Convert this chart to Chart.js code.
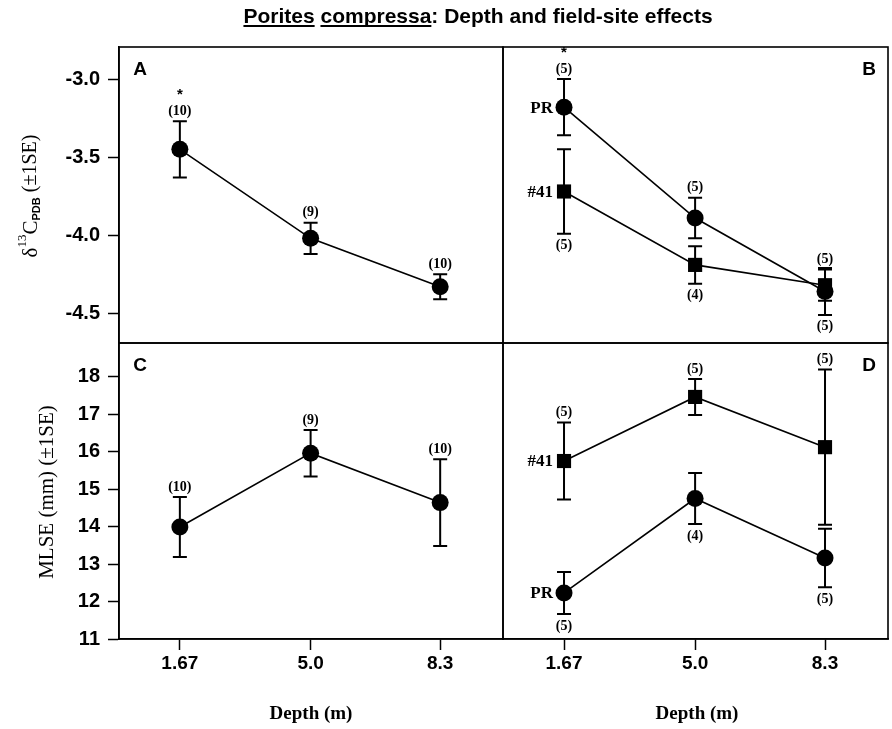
<!DOCTYPE html>
<html>
<head>
<meta charset="utf-8">
<script src="https://cdn.jsdelivr.net/npm/chart.js@4.4.1/dist/chart.umd.min.js"></script>
<style>
  html, body { margin: 0; padding: 0; background: #fff; overflow: hidden; }
  #wrap { position: relative; width: 892px; height: 729px; }
  #wrap canvas { position: absolute; left: 0; top: 0; }
</style>
</head>
<body>
<div id="wrap">
  <canvas id="pA" width="892" height="729"></canvas>
  <canvas id="pB" width="892" height="729"></canvas>
  <canvas id="pC" width="892" height="729"></canvas>
  <canvas id="pD" width="892" height="729"></canvas>
</div>
<script>
// depths (m) and tick labels
const depths = [1.67, 5.0, 8.3];
const depthLabels = ['1.67', '5.0', '8.3'];
const carbonTicks = [-4.5, -4.0, -3.5, -3.0];
const mlseTicks = [11, 12, 13, 14, 15, 16, 17, 18];

// A: d13C, both sites pooled
const carbonAll = [-3.45, -4.02, -4.33];
const carbonAllSE = [0.18, 0.10, 0.08];
const carbonAllN = [10, 9, 10];
const carbonAllSide = ['up', 'up', 'up'];
const carbonAllStar = [true, false, false];

// B: d13C by site
const carbonPR = [-3.18, -3.89, -4.36];
const carbonPRSE = [0.18, 0.13, 0.15];
const carbonPRN = [5, 5, 5];
const carbonPRSide = ['up', 'up', 'down'];
const carbonPRStar = [true, false, false];
const carbon41 = [-3.72, -4.19, -4.32];
const carbon41SE = [0.27, 0.12, 0.10];
const carbon41N = [5, 4, 5];
const carbon41Side = ['down', 'down', 'up'];

// C: MLSE, both sites pooled
const mlseAll = [13.99, 15.96, 14.64];
const mlseAllSE = [0.80, 0.62, 1.16];
const mlseAllN = [10, 9, 10];
const mlseAllSide = ['up', 'up', 'up'];

// D: MLSE by site
const mlse41 = [15.75, 17.46, 16.12];
const mlse41SE = [1.03, 0.48, 2.07];
const mlse41N = [5, 5, 5];
const mlse41Side = ['up', 'up', 'up'];
const mlsePR = [12.23, 14.75, 13.16];
const mlsePRSE = [0.56, 0.68, 0.78];
const mlsePRN = [5, 4, 5];
const mlsePRSide = ['down', 'down', 'down'];

const sans = "'Liberation Sans', Arial, sans-serif";
const serif = "'Liberation Serif', 'Times New Roman', serif";

function punkte(vals) {
  return depths.map((d, i) => ({ x: d, y: vals[i] }));
}

function serie(vals, se, n, side, star, name, style) {
  return {
    data: punkte(vals),
    se: se, n: n, side: side, star: star || [], name: name || '',
    borderColor: '#000',
    backgroundColor: '#000',
    borderWidth: 1.6,
    pointStyle: style,
    pointRadius: style === 'rect' ? 10 : 8.5,
    pointBorderWidth: 0,
    tension: 0
  };
}

// error bars, sample sizes, stars and site names
const fehlerBalken = {
  id: 'fehlerBalken',
  beforeDatasetsDraw(chart) {
    const ctx = chart.ctx;
    const y = chart.scales.y;
    ctx.save();
    ctx.strokeStyle = '#000';
    ctx.lineWidth = 2;
    chart.data.datasets.forEach((ds, i) => {
      chart.getDatasetMeta(i).data.forEach((pt, j) => {
        const v = ds.data[j].y, e = ds.se[j];
        const oben = y.getPixelForValue(v + e), unten = y.getPixelForValue(v - e);
        ctx.beginPath();
        ctx.moveTo(pt.x, oben); ctx.lineTo(pt.x, unten);
        ctx.moveTo(pt.x - 7, oben); ctx.lineTo(pt.x + 7, oben);
        ctx.moveTo(pt.x - 7, unten); ctx.lineTo(pt.x + 7, unten);
        ctx.stroke();
      });
    });
    ctx.restore();
  },
  afterDatasetsDraw(chart) {
    const ctx = chart.ctx;
    const y = chart.scales.y;
    ctx.save();
    ctx.fillStyle = '#000';
    ctx.textAlign = 'center';
    ctx.textBaseline = 'middle';
    chart.data.datasets.forEach((ds, i) => {
      chart.getDatasetMeta(i).data.forEach((pt, j) => {
        const v = ds.data[j].y, e = ds.se[j];
        let ly;
        if (ds.side[j] === 'up') ly = y.getPixelForValue(v + e) - 10;
        else ly = y.getPixelForValue(v - e) + 12;
        ctx.font = 'bold 14px ' + serif;
        ctx.fillText('(' + ds.n[j] + ')', pt.x, ly);
        if (ds.star[j]) {
          ctx.font = 'bold 15px ' + sans;
          ctx.fillText('*', pt.x, ly - 16);
        }
      });
      if (ds.name) {
        const p0 = chart.getDatasetMeta(i).data[0];
        ctx.font = 'bold 17px ' + serif;
        ctx.textAlign = 'right';
        ctx.fillText(ds.name, p0.x - 11, p0.y + 1);
        ctx.textAlign = 'center';
      }
    });
    ctx.restore();
  }
};

// panel frame and letter
const rahmen = {
  id: 'rahmen',
  afterDraw(chart, args, opts) {
    const { ctx, chartArea: a } = chart;
    ctx.save();
    ctx.strokeStyle = '#000';
    ctx.lineWidth = 1.6;
    ctx.strokeRect(a.left, a.top, a.right - a.left, a.bottom - a.top);
    ctx.fillStyle = '#000';
    ctx.font = 'bold 19px ' + sans;
    ctx.textBaseline = 'middle';
    ctx.textAlign = 'center';
    if (opts.rechts) ctx.fillText(opts.buchstabe, a.right - 19, a.top + 23);
    else ctx.fillText(opts.buchstabe, a.left + 21, a.top + 23);
    ctx.restore();
  }
};

// figure title and axis titles
const beschriftung = {
  id: 'beschriftung',
  afterDraw(chart) {
    const ctx = chart.ctx;
    ctx.save();
    ctx.fillStyle = '#000';
    ctx.strokeStyle = '#000';
    // title with underlined species name
    ctx.font = 'bold 21px ' + sans;
    ctx.textBaseline = 'alphabetic';
    ctx.textAlign = 'left';
    const teile = ['Porites', ' ', 'compressa', ': Depth and field-site effects'];
    const breiten = teile.map(t => ctx.measureText(t).width);
    let x = 478 - breiten.reduce((s, w) => s + w, 0) / 2;
    const by = 23;
    teile.forEach((t, i) => {
      ctx.fillText(t, x, by);
      if (i === 0 || i === 2) {
        ctx.lineWidth = 1.8;
        ctx.beginPath();
        ctx.moveTo(x, by + 3); ctx.lineTo(x + breiten[i], by + 3);
        ctx.stroke();
      }
      x += breiten[i];
    });

    // x titles
    ctx.font = 'bold 19px ' + serif;
    ctx.textAlign = 'center';
    ctx.textBaseline = 'middle';
    ctx.fillText('Depth (m)', 311, 714);
    ctx.fillText('Depth (m)', 697, 714);

    // y title top: δ13C PDB (±1SE)
    ctx.save();
    ctx.translate(31, 196);
    ctx.rotate(-Math.PI / 2);
    const seg = [
      { t: 'δ', f: '21px ' + serif, dy: 0 },
      { t: '13', f: '13px ' + serif, dy: -8 },
      { t: 'C', f: '21px ' + serif, dy: 0 },
      { t: 'PDB', f: 'bold 11px ' + sans, dy: 6 },
      { t: ' (±1SE)', f: '20px ' + serif, dy: 0 }
    ];
    ctx.textAlign = 'left';
    ctx.textBaseline = 'middle';
    let total = 0;
    seg.forEach(s => { ctx.font = s.f; s.w = ctx.measureText(s.t).width; total += s.w; });
    let sx = -total / 2;
    seg.forEach(s => { ctx.font = s.f; ctx.fillText(s.t, sx, s.dy); sx += s.w; });
    ctx.restore();

    // y title bottom
    ctx.save();
    ctx.translate(47, 492);
    ctx.rotate(-Math.PI / 2);
    ctx.font = '21px ' + serif;
    ctx.textAlign = 'center';
    ctx.textBaseline = 'middle';
    ctx.fillText('MLSE (mm) (±1SE)', 0, 0);
    ctx.restore();
    ctx.restore();
  }
};

function xAchse(zeigen) {
  return {
    type: 'linear', min: 0.12, max: 9.9, display: zeigen,
    afterBuildTicks: s => { s.ticks = depths.map(v => ({ value: v })); },
    afterFit: s => { s.height = zeigen ? 40 : 0; },
    grid: { drawOnChartArea: false, drawTicks: true, tickLength: 11, tickWidth: 1.5, tickColor: '#000' },
    border: { display: true, color: '#000', width: 1.6 },
    ticks: {
      color: '#000', padding: 2, maxRotation: 0, autoSkip: false,
      font: { family: sans, size: 19, weight: 'bold' },
      callback: (v, i) => depthLabels[i]
    }
  };
}

function yAchse(min, max, werte, zeigen, fmt) {
  return {
    type: 'linear', min: min, max: max, display: zeigen,
    afterBuildTicks: s => { s.ticks = werte.map(v => ({ value: v })); },
    afterFit: s => { s.width = zeigen ? 62 : 0; },
    grid: { drawOnChartArea: false, drawTicks: true, tickLength: 11, tickWidth: 1.5, tickColor: '#000' },
    border: { display: true, color: '#000', width: 1.6 },
    ticks: {
      color: '#000', padding: 8, autoSkip: false,
      font: { family: sans, size: 20, weight: 'bold' },
      callback: fmt
    }
  };
}

function panel(id, datasets, pad, xZeigen, yZeigen, yMin, yMax, yWerte, fmt, buchstabe, rechts, extra) {
  return new Chart(document.getElementById(id), {
    type: 'line',
    data: { datasets: datasets },
    options: {
      responsive: false,
      animation: false,
      events: [],
      layout: { padding: pad, autoPadding: false },
      scales: {
        x: xAchse(xZeigen),
        y: yAchse(yMin, yMax, yWerte, yZeigen, fmt)
      },
      plugins: {
        legend: { display: false },
        tooltip: { enabled: false },
        rahmen: { buchstabe: buchstabe, rechts: rechts }
      }
    },
    plugins: [fehlerBalken, rahmen].concat(extra || [])
  });
}

const cMin = -4.69, cMax = -2.795;
const mMin = 11, mMax = 18.9;
const fmtC = v => v.toFixed(1);
const fmtM = v => String(v);

panel('pA',
  [serie(carbonAll, carbonAllSE, carbonAllN, carbonAllSide, carbonAllStar, '', 'circle')],
  { left: 57, top: 47, right: 389, bottom: 386 }, false, true, cMin, cMax, carbonTicks, fmtC, 'A', false, [beschriftung]);

panel('pB',
  [serie(carbon41, carbon41SE, carbon41N, carbon41Side, null, '#41', 'rect'),
   serie(carbonPR, carbonPRSE, carbonPRN, carbonPRSide, carbonPRStar, 'PR', 'circle')],
  { left: 503, top: 47, right: 4, bottom: 386 }, false, false, cMin, cMax, carbonTicks, fmtC, 'B', true);

panel('pC',
  [serie(mlseAll, mlseAllSE, mlseAllN, mlseAllSide, null, '', 'circle')],
  { left: 57, top: 343, right: 389, bottom: 50 }, true, true, mMin, mMax, mlseTicks, fmtM, 'C', false);

panel('pD',
  [serie(mlse41, mlse41SE, mlse41N, mlse41Side, null, '#41', 'rect'),
   serie(mlsePR, mlsePRSE, mlsePRN, mlsePRSide, null, 'PR', 'circle')],
  { left: 503, top: 343, right: 4, bottom: 50 }, true, false, mMin, mMax, mlseTicks, fmtM, 'D', true);
</script>
</body>
</html>
